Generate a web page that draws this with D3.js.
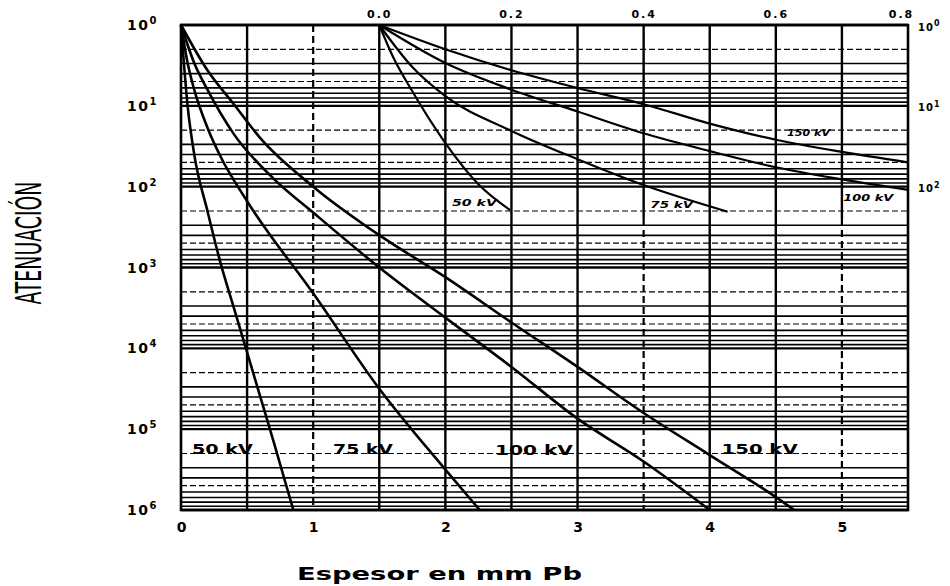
<!DOCTYPE html>
<html>
<head>
<meta charset="utf-8">
<script src="https://cdn.jsdelivr.net/npm/d3@7"></script>
<style>
  body { margin: 0; background: #fff; }
</style>
</head>
<body>
<svg id="chart" width="950" height="586"></svg>
<script>
const margin = { left: 181, right: 42, top: 25, bottom: 76 };
const width = 950 - margin.left - margin.right;
const height = 586 - margin.top - margin.bottom;

// thickness in mm Pb (bottom axis) and log10 of attenuation factor
const main50x = [0, 0.05, 0.1, 0.2, 0.3, 0.4, 0.5, 0.6, 0.7, 0.85];
const main50d = [0, 1.0, 1.6, 2.3, 2.95, 3.5, 4.05, 4.6, 5.15, 6.0];
const main75x = [0, 0.05, 0.1, 0.2, 0.3, 0.5, 1.0, 1.5, 2.0, 2.26];
const main75d = [0, 0.47, 0.8, 1.27, 1.63, 2.18, 3.32, 4.5, 5.5, 6.0];
const main100x = [0, 0.1, 0.2, 0.4, 0.7, 1.0, 1.5, 2.0, 2.5, 3.0, 3.5, 4.0];
const main100d = [0, 0.47, 0.8, 1.35, 1.9, 2.32, 3.0, 3.62, 4.23, 4.87, 5.4, 6.0];
const main150x = [0, 0.2, 0.4, 0.6, 1.0, 1.5, 2.0, 2.5, 3.0, 3.5, 4.0, 4.5, 4.64];
const main150d = [0, 0.56, 0.98, 1.4, 2.0, 2.6, 3.12, 3.68, 4.23, 4.8, 5.32, 5.84, 6.0];

// inset, top axis 0.0 - 0.8 mm Pb
const ins50x = [0, 0.02, 0.05, 0.1, 0.15, 0.198];
const ins50d = [0, 0.38, 0.82, 1.46, 1.97, 2.29];
const ins75x = [0, 0.05, 0.1, 0.2, 0.3, 0.4, 0.527];
const ins75d = [0, 0.52, 0.88, 1.31, 1.66, 1.98, 2.31];
const ins100x = [0, 0.1, 0.2, 0.3, 0.4, 0.5, 0.6, 0.7, 0.8];
const ins100d = [0, 0.47, 0.8, 1.07, 1.34, 1.56, 1.76, 1.91, 2.04];
const ins150x = [0, 0.1, 0.2, 0.3, 0.4, 0.5, 0.6, 0.7, 0.8];
const ins150d = [0, 0.3, 0.56, 0.78, 0.98, 1.22, 1.42, 1.57, 1.7];

const kvLabels = ['50 kV', '75 kV', '100 kV', '150 kV'];
const bottomTicks = [0, 1, 2, 3, 4, 5];
const topTicks = [0, 0.2, 0.4, 0.6, 0.8];
const topTickLabels = ['0.0', '0.2', '0.4', '0.6', '0.8'];
const leftExponents = [0, 1, 2, 3, 4, 5, 6];
const rightExponents = [0, 1, 2];
const xLabel = 'Espesor en mm Pb';
const yLabel = 'ATENUACIÓN';

const svg = d3.select('#chart')
    .attr('font-family', '"DejaVu Sans", sans-serif')
    .attr('font-weight', 'bold');

var x = d3.scaleLinear().domain([0, 5.5]).range([margin.left, margin.left + width]);
var y = d3.scaleLog().domain([1, 1e6]).range([margin.top, margin.top + height]);
var xTop = d3.scaleLinear().domain([0, 0.8]).range([x(1.5), x(5.5)]);

// ---- grid ----
var grid = svg.append('g').attr('stroke', '#000').attr('fill', 'none');
for (let e = 0; e < 6; e++) {
    for (let k = 2; k <= 9; k++) {
        let v = Math.pow(10, e) * k;
        grid.append('line')
            .attr('x1', x(0)).attr('x2', x(5.5))
            .attr('y1', y(v)).attr('y2', y(v))
            .attr('stroke-width', (k == 2 || k == 5) ? 1.2 : 1.6)
            .attr('stroke-dasharray', (k == 2 || k == 5) ? '6,3' : null);
    }
}
leftExponents.forEach(e => {
    grid.append('line')
        .attr('x1', x(0)).attr('x2', x(5.5))
        .attr('y1', y(Math.pow(10, e))).attr('y2', y(Math.pow(10, e)))
        .attr('stroke-width', 2.4);
});

const dashedX = [1, 3.5, 5];
const insetBottom = Math.pow(10, 2.4);
d3.range(0.5, 5.5, 0.5).forEach(v => {
    if (dashedX.indexOf(v) < 0) {
        grid.append('line')
            .attr('x1', x(v)).attr('x2', x(v))
            .attr('y1', y(1)).attr('y2', y(1e6))
            .attr('stroke-width', 2.4);
    } else {
        let top = v >= 1.5 ? insetBottom : 1;
        if (top > 1) {
            grid.append('line')
                .attr('x1', x(v)).attr('x2', x(v))
                .attr('y1', y(1)).attr('y2', y(top))
                .attr('stroke-width', 2.4);
        }
        grid.append('line')
            .attr('x1', x(v)).attr('x2', x(v))
            .attr('y1', y(top)).attr('y2', y(1e6))
            .attr('stroke-width', 2.2)
            .attr('stroke-dasharray', '7,4');
    }
});

svg.append('rect')
    .attr('x', x(0)).attr('y', y(1))
    .attr('width', x(5.5) - x(0)).attr('height', y(1e6) - y(1))
    .attr('fill', 'none').attr('stroke', '#000').attr('stroke-width', 2.6);

// ---- curves ----
function pts(xs, ds) {
    return xs.map((v, i) => ({ x: v, y: Math.pow(10, ds[i]) }));
}

var line = d3.line()
    .x(d => x(d.x))
    .y(d => y(d.y))
    .curve(d3.curveMonotoneX);

var lineTop = d3.line()
    .x(d => xTop(d.x))
    .y(d => y(d.y))
    .curve(d3.curveMonotoneX);

const mainSeries = [pts(main50x, main50d), pts(main75x, main75d), pts(main100x, main100d), pts(main150x, main150d)];
const insetSeries = [pts(ins50x, ins50d), pts(ins75x, ins75d), pts(ins100x, ins100d), pts(ins150x, ins150d)];

mainSeries.forEach(s => {
    svg.append('path')
        .attr('d', line(s))
        .attr('stroke', '#000')
        .attr('stroke-width', 2.6)
        .attr('fill', 'none');
});
insetSeries.forEach(s => {
    svg.append('path')
        .attr('d', lineTop(s))
        .attr('stroke', '#000')
        .attr('stroke-width', 2.2)
        .attr('fill', 'none');
});

// ---- curve labels ----
const mainLabelPos = [
    { x: 0.083, d: 5.24, w: 61 },
    { x: 1.15, d: 5.24, w: 60 },
    { x: 2.375, d: 5.26, w: 78 },
    { x: 4.09, d: 5.24, w: 76 }
];
const insetLabelPos = [
    { x: 0.11, d: 2.2, w: 45 },
    { x: 0.41, d: 2.23, w: 43 },
    { x: 0.702, d: 2.14, w: 50 },
    { x: 0.617, d: 1.33, w: 43 }
];

kvLabels.forEach((t, i) => {
    let p = mainLabelPos[i];
    svg.append('text')
        .attr('x', x(p.x)).attr('y', y(Math.pow(10, p.d)))
        .attr('dy', '0.36em')
        .attr('font-size', 14)
        .attr('textLength', p.w)
        .attr('lengthAdjust', 'spacingAndGlyphs')
        .text(t);
    let q = insetLabelPos[i];
    svg.append('text')
        .attr('x', xTop(q.x)).attr('y', y(Math.pow(10, q.d)))
        .attr('dy', '0.36em')
        .attr('font-size', 9)
        .attr('font-style', 'italic')
        .attr('textLength', q.w)
        .attr('lengthAdjust', 'spacingAndGlyphs')
        .text(t);
});

// ---- axes ----
var xAxis = svg.append('g')
    .attr('transform', 'translate(0,' + y(1e6) + ')')
    .call(d3.axisBottom(x).tickValues(bottomTicks).tickSize(0).tickPadding(12).tickFormat(d3.format('d')));
xAxis.select('.domain').remove();
xAxis.selectAll('text')
    .attr('fill', '#000')
    .attr('font-size', 14)
    .attr('font-family', '"DejaVu Sans", sans-serif')
    .attr('font-weight', 'bold');

var xTopAxis = svg.append('g')
    .attr('transform', 'translate(0,' + y(1) + ')')
    .call(d3.axisTop(xTop).tickValues(topTicks).tickSize(0).tickPadding(7)
        .tickFormat((d, i) => topTickLabels[i]));
xTopAxis.select('.domain').remove();
xTopAxis.selectAll('text')
    .attr('fill', '#000')
    .attr('font-size', 11)
    .attr('letter-spacing', 2)
    .attr('font-family', '"DejaVu Sans", sans-serif')
    .attr('font-weight', 'bold');
xTopAxis.selectAll('.tick:last-of-type text').attr('dx', -7);

function powLabel(sel, size, sup) {
    sel.append('tspan').text('10');
    sel.append('tspan')
        .attr('font-size', sup)
        .attr('dy', -size * 0.42)
        .text(d => d);
}

svg.append('g').selectAll('text').data(leftExponents).enter().append('text')
    .attr('x', x(0) - 23)
    .attr('y', d => y(Math.pow(10, d)))
    .attr('dy', '0.36em')
    .attr('text-anchor', 'end')
    .attr('font-size', 14)
    .attr('letter-spacing', 1.5)
    .call(powLabel, 14, 10);

svg.append('g').selectAll('text').data(rightExponents).enter().append('text')
    .attr('x', x(5.5) + 10)
    .attr('y', d => y(Math.pow(10, d)) + 2)
    .attr('dy', '0.36em')
    .attr('font-size', 10)
    .attr('letter-spacing', 1)
    .call(powLabel, 10, 8);

// ---- titles ----
svg.append('text')
    .attr('x', 297).attr('y', 580)
    .attr('font-size', 17)
    .attr('textLength', 285)
    .attr('lengthAdjust', 'spacingAndGlyphs')
    .text(xLabel);

svg.append('text')
    .attr('transform', 'translate(41,243) rotate(-90)')
    .attr('text-anchor', 'middle')
    .attr('font-size', 36)
    .attr('font-weight', 'normal')
    .attr('font-family', '"Liberation Sans Narrow", "DejaVu Sans Condensed", sans-serif')
    .attr('textLength', 123)
    .attr('lengthAdjust', 'spacingAndGlyphs')
    .text(yLabel);
</script>
</body>
</html>
